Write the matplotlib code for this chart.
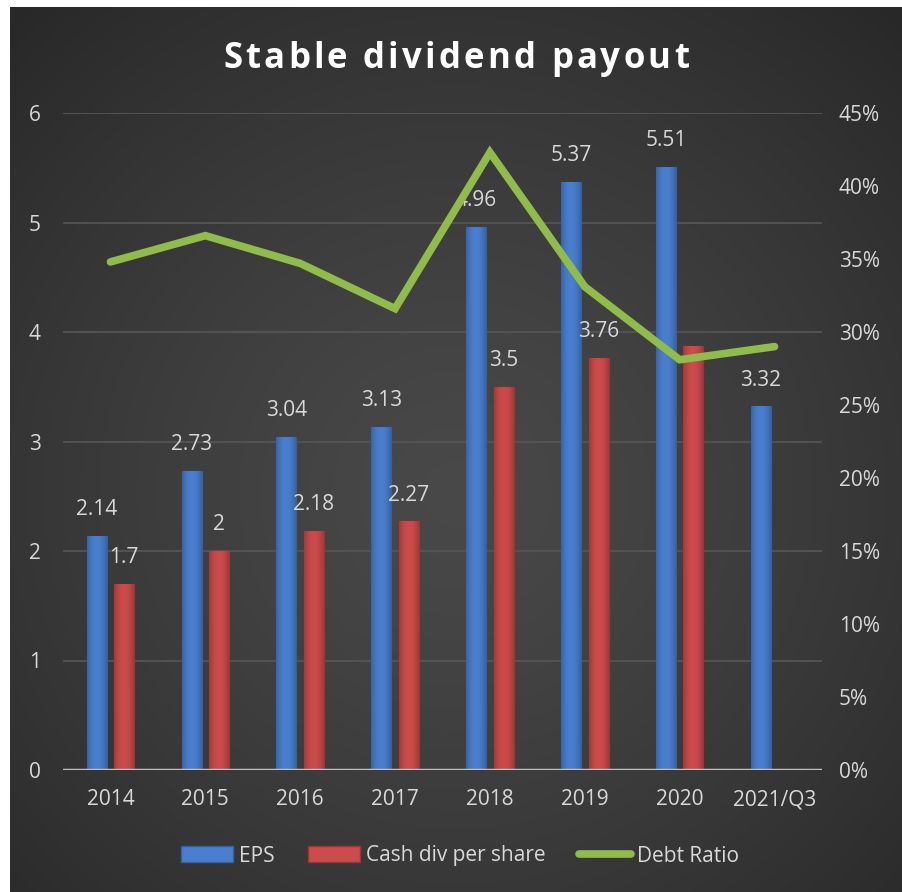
import numpy as np
import matplotlib
matplotlib.use("Agg")
import matplotlib.pyplot as plt
from matplotlib.lines import Line2D
from matplotlib.patches import Patch
from matplotlib.colors import to_rgb

categories = ["2014", "2015", "2016", "2017", "2018", "2019", "2020", "2021/Q3"]
eps = [2.14, 2.73, 3.04, 3.13, 4.96, 5.37, 5.51, 3.32]
cash_div = [1.7, 2.0, 2.18, 2.27, 3.5, 3.76, 3.87, np.nan]
cash_div_labels = ["1.7", "2", "2.18", "2.27", "3.5", "3.76", "", ""]
debt_ratio = [34.8, 36.6, 34.7, 31.6, 42.3, 33.1, 28.1, 29.0]
left_ticks = [0, 1, 2, 3, 4, 5, 6]
right_ticks = [0, 5, 10, 15, 20, 25, 30, 35, 40, 45]
title = "Stable dividend payout"

W, H = 902, 892
fig = plt.figure(figsize=(W / 100, H / 100), dpi=100)
fig.patch.set_facecolor("white")

# background with radial gradient (dark panel inset from white border on top/left)
bg = fig.add_axes([10 / W, 0, 1 - 10 / W, 1 - 7 / H])
bg.set_axis_off()
ny, nx = 400, 400
yy, xx = np.mgrid[0:1:ny * 1j, 0:1:nx * 1j]
r = np.sqrt(((xx - 0.5) / 0.75) ** 2 + ((yy - 0.45) / 0.75) ** 2)
v = 0.285 - 0.13 * np.clip(r, 0, 1) ** 1.3
img = np.dstack([v, v, v])
bg.imshow(img, extent=[0, 1, 0, 1], aspect="auto", origin="lower")
bg.set_xlim(0, 1)
bg.set_ylim(0, 1)

ax = fig.add_axes([63 / W, 1 - 770 / H, (822 - 63) / W, (770 - 113) / H])
ax.patch.set_alpha(0)
x = np.arange(len(categories))
bw = 0.21
off = 0.145
txtc = "#d9d9d9"
fs_tick = 15
fs_lbl = 15
blue, blue_e = "#4a7fcf", "#35629f"
red, red_e = "#cc4b4b", "#9e3434"


def shade(base, n=64):
    c = np.array(to_rgb(base))
    t = np.linspace(-1, 1, n)
    f = 1.0 - 0.22 * np.abs(t) ** 2
    row = np.clip(c[None, :] * f[:, None], 0, 1)
    return row[None, :, :]


bars1 = ax.bar(x - off, eps, width=bw, color=blue, edgecolor=blue_e, linewidth=0.8, zorder=3)
bars2 = ax.bar(x + off, cash_div, width=bw, color=red, edgecolor=red_e, linewidth=0.8, zorder=3)
for bars, base in ((bars1, blue), (bars2, red)):
    g = shade(base)
    for b in bars:
        h = b.get_height()
        if not np.isfinite(h) or h <= 0:
            continue
        x0 = b.get_x()
        im = ax.imshow(g, extent=[x0, x0 + b.get_width(), 0, h], aspect="auto",
                       origin="lower", zorder=3.1, interpolation="bilinear")
        im.set_clip_path(b)

for xi, v_ in zip(x, eps):
    ax.annotate(f"{v_:g}", (xi - off, v_), xytext=(0, 19), textcoords="offset points",
                ha="center", va="center", color=txtc, fontsize=fs_lbl, family="Open Sans", zorder=6)
for xi, v_, lab in zip(x, cash_div, cash_div_labels):
    if lab:
        ax.annotate(lab, (xi + off, v_), xytext=(0, 19), textcoords="offset points",
                    ha="center", va="center", color=txtc, fontsize=fs_lbl, family="Open Sans", zorder=6)

ax.set_xlim(-0.5, len(categories) - 0.5)
ax.set_ylim(0, 6)
ax.set_yticks(left_ticks)
ax.set_xticks(x)
ax.set_xticklabels(categories)
for s in ax.spines.values():
    s.set_visible(False)
ax.axhline(0, color="#bfbfbf", lw=2.5, zorder=4)
ax.grid(axis="y", color="#555555", lw=1.3, zorder=0)
ax.tick_params(axis="both", length=0, colors=txtc, labelsize=fs_tick)
ax.tick_params(axis="y", pad=16)
ax.tick_params(axis="x", pad=14)
for t in ax.get_xticklabels() + ax.get_yticklabels():
    t.set_family("Open Sans")

ax2 = ax.twinx()
ax2.patch.set_alpha(0)
ax2.plot(x, debt_ratio, color="#8fbc4a", lw=5.5, solid_joinstyle="miter", solid_capstyle="round", zorder=5)
ax2.set_ylim(0, 45)
ax2.set_yticks(right_ticks)
ax2.set_yticklabels([f"{t}%" for t in right_ticks])
for s in ax2.spines.values():
    s.set_visible(False)
ax2.tick_params(axis="y", length=0, colors=txtc, labelsize=fs_tick, pad=12)
for t in ax2.get_yticklabels():
    t.set_family("Open Sans")

# letter-spaced title
renderer = fig.canvas.get_renderer()
tprops = dict(color="white", fontsize=25, fontweight="bold", family="Open Sans", va="baseline", ha="left")
spacing = 3.2
widths = []
for ch in title:
    t = fig.text(0, 0, ch if ch != " " else "\u00a0", **tprops)
    widths.append(t.get_window_extent(renderer).width)
    t.remove()
total = sum(widths) + spacing * (len(title) - 1)
xpos = 456 - total / 2
yfig = 1 - 68 / H
for ch, w in zip(title, widths):
    if ch != " ":
        fig.text(xpos / W, yfig, ch, **tprops)
    xpos += w + spacing

handles = [Patch(facecolor=blue, edgecolor=blue_e),
           Patch(facecolor=red, edgecolor=red_e),
           Line2D([0], [0], color="#8fbc4a", lw=5.5, solid_capstyle="round")]
leg = fig.legend(handles, ["EPS", "Cash div per share", "Debt Ratio"], loc="center",
                 bbox_to_anchor=(460 / W, 1 - 856 / H), ncol=3, frameon=False,
                 prop={"family": "Open Sans", "size": 15}, labelcolor=txtc,
                 handlelength=2.5, handleheight=0.8, handletextpad=0.3, columnspacing=1.6)

fig.savefig("out.png", dpi=100, facecolor=fig.get_facecolor())
